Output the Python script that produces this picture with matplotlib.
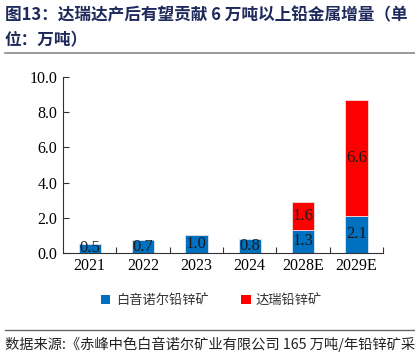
import matplotlib
matplotlib.use("Agg")
import matplotlib.pyplot as plt
from matplotlib.lines import Line2D
from matplotlib.patches import Patch

categories = ["2021", "2022", "2023", "2024", "2028E", "2029E"]
baiyin = [0.5, 0.7, 1.0, 0.8, 1.3, 2.1]
darui = [0, 0, 0, 0, 1.6, 6.6]
yticks = [0, 2, 4, 6, 8, 10]

plt.rcParams['font.family'] = ['Liberation Serif', 'Noto Sans CJK SC']
cjk = ['Noto Sans CJK SC', 'DejaVu Sans']

fig = plt.figure(figsize=(4.15, 3.58), dpi=100)
ax = fig.add_axes([0.152, 0.294, 0.771, 0.490])

x = list(range(len(categories)))
blue = '#0070C0'
red = '#FF0000'
w = 0.42
ax.bar(x, baiyin, width=w, color=blue, edgecolor='#dce6f0', linewidth=0.6)
for i, v in enumerate(darui):
    if v > 0:
        ax.bar(i, v, bottom=baiyin[i], width=w, color=red, edgecolor='#f4dddd', linewidth=0.6)
for i, v in enumerate(baiyin):
    ax.text(i, v / 2, f"{v:.1f}", ha='center', va='center', fontsize=12, color='#1a1a1a')
for i, v in enumerate(darui):
    if v > 0:
        ax.text(i, baiyin[i] + v / 2, f"{v:.1f}", ha='center', va='center', fontsize=12, color='#1a1a1a')

ax.set_xlim(-0.5, len(categories) - 0.5)
ax.set_ylim(0, 10)
ax.set_yticks(yticks)
ax.set_yticklabels([f"{t:.1f}" for t in yticks], fontsize=11.5)
ax.set_xticks(x)
ax.set_xticklabels(categories, fontsize=11.5)
ax.tick_params(axis='x', length=0, pad=4)
ax.set_xticks([i + 0.5 for i in x], minor=True)
ax.tick_params(axis='x', which='minor', direction='in', length=4, width=0.8, color='#333333')
ax.tick_params(axis='y', direction='in', length=4, width=0.8, color='#333333', pad=4)
for s in ['top', 'right']:
    ax.spines[s].set_visible(False)
for s in ['left', 'bottom']:
    ax.spines[s].set_color('#333333')
    ax.spines[s].set_linewidth(0.8)

# title
fig.text(0.012, 0.958, "图13：达瑞达产后有望贡献 6 万吨以上铅金属增量（单", family=cjk,
         fontsize=12, fontweight='bold', color='#1F2A5C', va='center', ha='left')
fig.text(0.012, 0.888, "位：万吨）", family=cjk,
         fontsize=12, fontweight='bold', color='#1F2A5C', va='center', ha='left')
fig.add_artist(Line2D([0.012, 1.0], [0.853, 0.853], color='#888888', linewidth=1.2))

# legend
handles = [Patch(facecolor=blue, label='白音诺尔铅锌矿'), Patch(facecolor=red, label='达瑞铅锌矿')]
leg = fig.legend(handles=handles, loc='center', bbox_to_anchor=(0.51, 0.16), ncol=2, frameon=False,
                 prop={'family': cjk, 'size': 9.5}, handlelength=0.7, handleheight=0.7,
                 columnspacing=2.5, handletextpad=0.4)
for t in leg.get_texts():
    t.set_color('#333333')

# source
fig.add_artist(Line2D([0.012, 1.0], [0.078, 0.078], color='#666666', linewidth=1.0))
fig.text(0.012, 0.038, "数据来源:《赤峰中色白音诺尔矿业有限公司 165 万吨/年铅锌矿采", family=cjk,
         fontsize=10.3, color='#222222', va='center', ha='left')

fig.savefig("out.png", dpi=100)
